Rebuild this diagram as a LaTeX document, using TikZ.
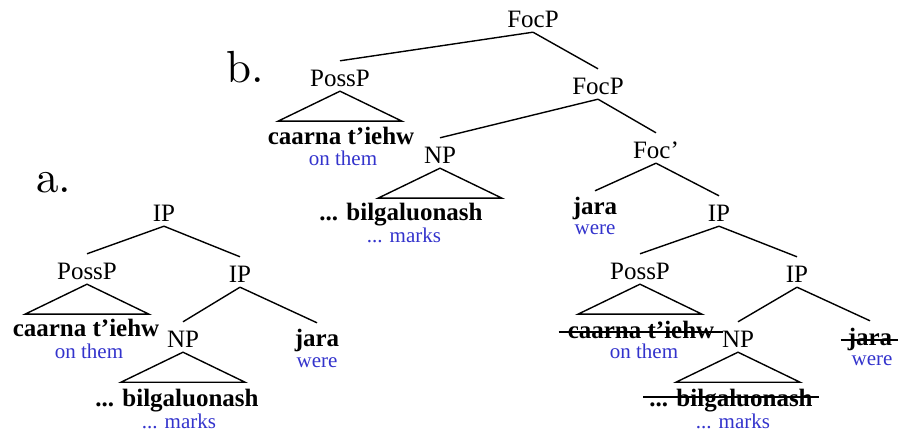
\documentclass[tikz,border=0pt]{standalone}
\usepackage{fontspec}
\setmainfont{Liberation Serif}
\newfontfamily\lmfont{lmroman10-regular.otf}
\definecolor{glossblue}{RGB}{51,51,204}
\begin{document}
\begin{tikzpicture}[x=1pt,y=-1pt,
  lab/.style={anchor=base,inner sep=0pt,text height=26pt,text depth=4pt,font=\fontsize{25}{30}\selectfont},
  word/.style={anchor=base,inner sep=0pt,text height=24pt,text depth=4pt,font=\fontsize{25}{30}\selectfont\bfseries},
  gloss/.style={anchor=base,inner sep=0pt,text=glossblue,font=\fontsize{21}{25}\selectfont},
  big/.style={anchor=base,inner sep=0pt,font=\fontsize{45}{50}\selectfont\lmfont},
  edge/.style={line width=1.4pt},
  tri/.style={line width=1.4pt,line join=miter}]
\useasboundingbox (0,0) rectangle (899,435);

% labels
\node[big] (la) at (54,193) {a.};
\node[big] (lb) at (245,83) {b.};

% ---- tree a ----
\node[lab] (ipA) at (164,222) {IP};
\node[lab] (possA) at (87,280) {PossP};
\node[word] (caarnaA) at (86,337) {caarna t’iehw};
\node[gloss] (onthemA) at (89,358) {on them};
\node[lab] (ipA2) at (240,283) {IP};
\node[lab] (npA) at (183,348) {NP};
\node[word] (bilgA) at (177,406) {... bilgaluonash};
\node[gloss] (marksA) at (179,428) {... marks};
\node[word] (jaraA) at (317,347) {jara};
\node[gloss] (wereA) at (317,367) {were};

\draw[edge] (ipA.south) -- (possA.north);
\draw[edge] (ipA.south) -- (ipA2.north);
\draw[edge] (ipA2.south) -- (npA.north);
\draw[edge] (ipA2.south) -- (jaraA.north);
\draw[tri] (possA.south) -- ++(-62,30) -- ++(124,0) -- cycle;
\draw[tri] (npA.south) -- ++(-62,30) -- ++(124,0) -- cycle;

% ---- tree b ----
\node[lab] (focB) at (533,28) {FocP};
\node[lab] (possB) at (340,87) {PossP};
\node[word] (caarnaB) at (341,145) {caarna t’iehw};
\node[gloss] (onthemB) at (343,166) {on them};
\node[lab] (focB2) at (598,95) {FocP};
\node[lab] (npB) at (440,164) {NP};
\node[word] (bilgB) at (401,221) {... bilgaluonash};
\node[gloss] (marksB) at (404,243) {... marks};
\node[lab] (focbar) at (656,159) {Foc’};
\node[word] (jaraB) at (595,215) {jara};
\node[gloss] (wereB) at (595,235) {were};
\node[lab] (ipB) at (719,222) {IP};
\node[lab] (possB2) at (640,280) {PossP};
\node[word] (caarnaB2) at (641,338) {caarna t’iehw};
\node[gloss] (onthemB2) at (644,358) {on them};
\node[lab] (ipB3) at (797,283) {IP};
\node[lab] (npB2) at (738,348) {NP};
\node[word] (bilgB2) at (731,406) {... bilgaluonash};
\node[gloss] (marksB2) at (733,428) {... marks};
\node[word] (jaraB2) at (870,345) {jara};
\node[gloss] (wereB2) at (872,365) {were};

\draw[edge] (focB.south) -- (possB.north);
\draw[edge] (focB.south) -- (focB2.north);
\draw[edge] (focB2.south) -- (npB.north);
\draw[edge] (focB2.south) -- (focbar.north);
\draw[edge] (focbar.south) -- (jaraB.north);
\draw[edge] (focbar.south) -- (ipB.north);
\draw[edge] (ipB.south) -- (possB2.north);
\draw[edge] (ipB.south) -- (ipB3.north);
\draw[edge] (ipB3.south) -- (npB2.north);
\draw[edge] (ipB3.south) -- (jaraB2.north);
\draw[tri] (possB.south) -- ++(-62,30) -- ++(124,0) -- cycle;
\draw[tri] (npB.south) -- ++(-62,30) -- ++(124,0) -- cycle;
\draw[tri] (possB2.south) -- ++(-62,30) -- ++(124,0) -- cycle;
\draw[tri] (npB2.south) -- ++(-62,30) -- ++(124,0) -- cycle;

% strike-throughs
\draw[edge] ([xshift=-9pt,yshift=6pt]caarnaB2.base west) -- ([xshift=9pt,yshift=6pt]caarnaB2.base east);
\draw[edge] ([xshift=-6pt,yshift=9pt]bilgB2.base west) -- ([xshift=6pt,yshift=9pt]bilgB2.base east);
\draw[edge] ([xshift=-7pt,yshift=5pt]jaraB2.base west) -- ([xshift=6pt,yshift=5pt]jaraB2.base east);
\end{tikzpicture}
\end{document}
